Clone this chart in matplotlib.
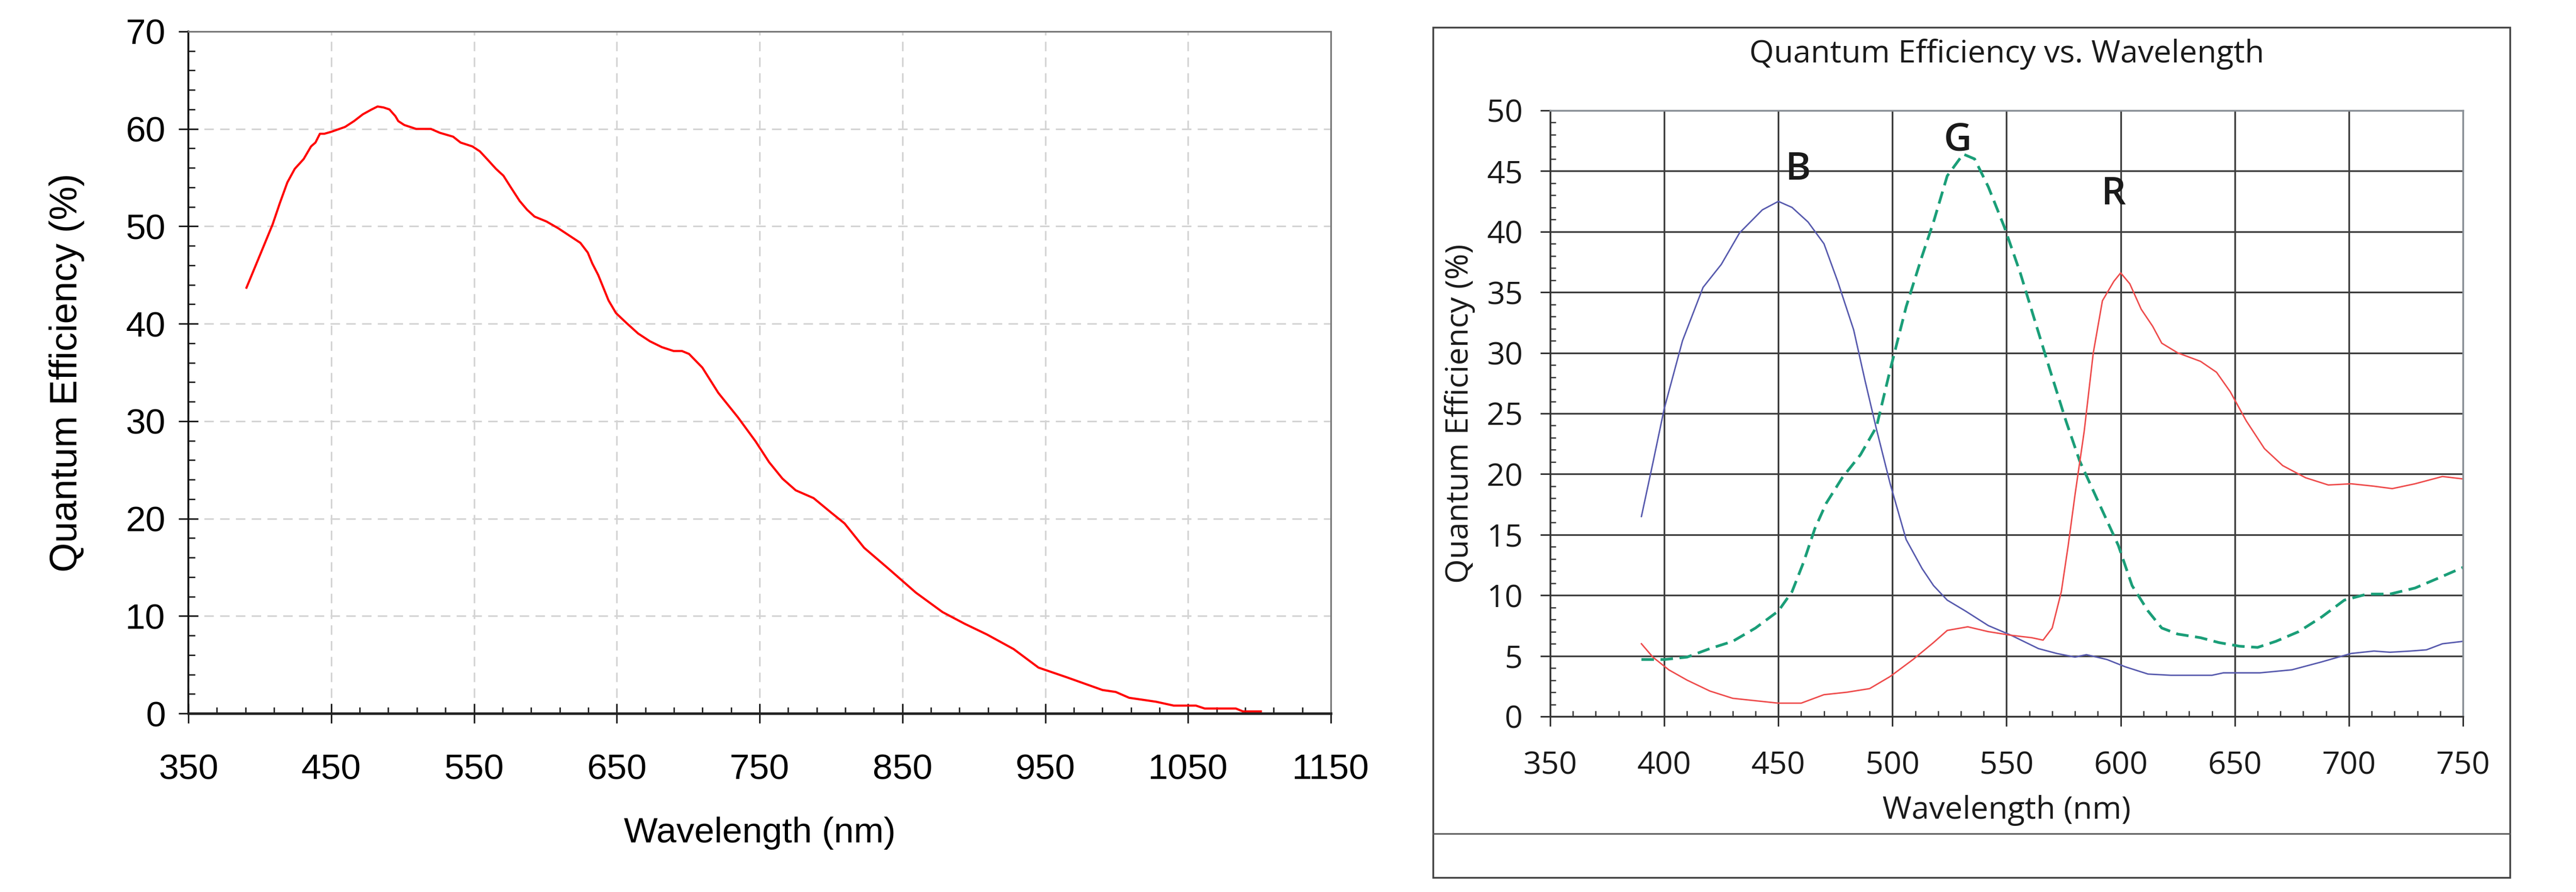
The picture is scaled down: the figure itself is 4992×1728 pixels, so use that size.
import numpy as np
import matplotlib
matplotlib.use('Agg')
import matplotlib.pyplot as plt
from matplotlib import font_manager
from matplotlib.ticker import MultipleLocator
from matplotlib.patches import Rectangle
from matplotlib.lines import Line2D

# left chart: mono sensor
mono_wl = [390.7, 401.7, 409, 414.1, 419.3, 424.5, 430.7, 435.9, 439, 442.1, 445.2, 450,
           459.7, 466, 472.2, 478.4, 482.5, 486.7, 490.8, 495, 497, 501.2, 509.5, 519.8,
           526.1, 535.4, 540.6, 548.9, 554.1, 559.2, 565.4, 570.6, 575.8, 582, 587.2,
           592.4, 600.7, 609, 615.2, 624.5, 629.7, 632.8, 637, 644.2, 649.4, 656.6, 664.9,
           673.2, 681.5, 689.8, 695.6, 700.6, 709.9, 721.1, 734.8, 747.3, 756.6, 766,
           775.3, 787.8, 800.2, 809.5, 823.2, 840.7, 859.4, 878.1, 893.6, 909.2, 927.9,
           945.3, 965.2, 990.1, 999.4, 1008.8, 1027.5, 1040, 1055.5, 1061.7, 1083.5,
           1088.5, 1101]
mono_qe = [43.7, 47.6, 50.2, 52.4, 54.5, 55.9, 56.9, 58.2, 58.6, 59.5, 59.5, 59.7,
           60.2, 60.8, 61.5, 62.0, 62.3, 62.2, 62.0, 61.3, 60.8, 60.4, 60.0, 60.0,
           59.6, 59.2, 58.6, 58.2, 57.7, 56.9, 55.9, 55.2, 54.0, 52.6, 51.7,
           51.0, 50.5, 49.8, 49.2, 48.3, 47.3, 46.2, 45.0, 42.4, 41.1, 40.1, 39.0,
           38.2, 37.6, 37.2, 37.2, 36.9, 35.5, 32.9, 30.4, 27.9, 25.8, 24.1,
           22.9, 22.1, 20.6, 19.5, 17.0, 14.8, 12.4, 10.4, 9.2, 8.1, 6.6,
           4.7, 3.7, 2.4, 2.2, 1.6, 1.2, 0.8, 0.8, 0.5, 0.5,
           0.2, 0.2]
mono_xticks = [350, 450, 550, 650, 750, 850, 950, 1050, 1150]
mono_yticks = [0, 10, 20, 30, 40, 50, 60, 70]

# right chart: colour sensor
b_wl = [390, 395, 400, 408, 417, 425, 433, 443, 450, 456, 463, 470, 476, 483, 488, 493,
        499, 506, 513, 518, 524, 532, 542, 552, 564, 572, 580, 585, 594, 602, 612, 622,
        640, 645, 661, 675, 688, 701, 711, 718, 727, 734, 741, 750]
b_qe = [16.5, 20.9, 25.4, 31.0, 35.4, 37.3, 39.9, 41.8, 42.5, 42.0, 40.8, 39.0, 35.9,
        31.9, 27.7, 23.7, 19.2, 14.6, 12.2, 10.8, 9.6, 8.7, 7.5, 6.7, 5.6, 5.2, 4.9, 5.1,
        4.7, 4.1, 3.5, 3.4, 3.4, 3.6, 3.6, 3.85, 4.5, 5.2, 5.4, 5.3, 5.4, 5.5, 6.0, 6.2]

g_wl = [390, 400, 410, 420, 430, 440, 450, 456, 461, 466, 471, 478, 486, 493, 499, 506,
        513, 518, 524, 531, 536, 542, 549, 556, 562, 569, 576, 582, 590, 599, 605, 612,
        618, 625, 635, 643, 652, 660, 668, 678, 688, 698, 708, 718, 729, 739, 750]
g_qe = [4.7, 4.7, 4.9, 5.6, 6.2, 7.3, 8.7, 10.3, 12.7, 15.5, 17.6, 19.7, 21.6, 23.9, 28.6,
        33.8, 38.0, 40.8, 44.6, 46.4, 46.0, 43.7, 40.4, 36.6, 32.9, 28.6, 24.4, 21.1,
        17.8, 14.1, 10.8, 8.7, 7.3, 6.8, 6.5, 6.1, 5.8, 5.7, 6.2, 7.0, 8.2, 9.6, 10.1,
        10.1, 10.6, 11.4, 12.3]

r_wl = [390, 395, 402, 410, 420, 430, 440, 450, 460, 470, 480, 490, 499, 509, 518, 524,
        533, 542, 552, 561, 566, 570, 574, 577, 580, 584, 588, 592, 597, 600, 604, 609,
        614, 618, 625, 635, 642, 648, 655, 663, 671, 681, 691, 701, 711, 719, 729, 741, 750]
r_qe = [6.0, 4.9, 3.85, 3.0, 2.1, 1.5, 1.3, 1.1, 1.1, 1.8, 2.0, 2.3, 3.3, 4.7, 6.1, 7.1,
        7.4, 7.0, 6.7, 6.5, 6.3, 7.3, 10.3, 14.1, 18.3, 23.5, 30.0, 34.3, 35.9, 36.6, 35.7,
        33.6, 32.2, 30.8, 30.0, 29.3, 28.4, 26.8, 24.4, 22.1, 20.7, 19.7, 19.1, 19.2, 19.0,
        18.8, 19.2, 19.8, 19.6]

peak_labels = ['B', 'G', 'R']
peak_x = [458.8, 528.6, 596.9]
peak_y = [45.1, 47.5, 43.05]

names = {f.name for f in font_manager.fontManager.ttflist}
narrow = 'Liberation Sans Narrow' if 'Liberation Sans Narrow' in names else 'Liberation Sans'
nsize = 55 if narrow == 'Liberation Sans Narrow' else 50

fig = plt.figure(figsize=(49.92, 17.28), dpi=100)

# ---- left chart ----
ax1 = fig.add_axes([0.07312, 0.20023, 0.44351, 0.76447])
ax1.plot(mono_wl, mono_qe, color='#ff0000', lw=3)
ax1.set_xlim(350, 1150)
ax1.set_ylim(0, 70)
ax1.set_xticks(mono_xticks)
ax1.set_xticks(np.arange(370, 1150, 20), minor=True)
ax1.set_yticks(mono_yticks)
ax1.yaxis.set_minor_locator(MultipleLocator(2))
ax1.grid(True, which='major', color='#d4d4d4', lw=2.2, ls=(0, (6, 4)))
ax1.set_axisbelow(True)
for side in ['top', 'right']:
    ax1.spines[side].set_color('#777777')
    ax1.spines[side].set_linewidth(2.2)
ax1.spines['left'].set_color('#111111')
ax1.spines['left'].set_linewidth(2.6)
ax1.spines['bottom'].set_color('#222222')
ax1.spines['bottom'].set_linewidth(3.5)
ax1.tick_params(which='major', direction='inout', length=28, width=2.2, color='#222222',
                labelsize=nsize, labelfontfamily=narrow)
ax1.tick_params(which='minor', direction='in', length=9, width=2, color='#222222')
ax1.tick_params(axis='x', which='major', pad=42)
ax1.tick_params(axis='y', which='major', pad=18)
ax1.set_xlabel('Wavelength (nm)', fontfamily=narrow, fontsize=nsize, va='center')
ax1.xaxis.set_label_coords(0.5, -0.1756)
ax1.set_ylabel('Quantum Efficiency (%)', fontfamily='Liberation Sans', fontsize=53, va='center')
ax1.yaxis.set_label_coords(-0.1066, 0.5)

# ---- right chart frame ----
fig.patches.append(Rectangle((0.55629, 0.0162), 0.41807, 0.95313, transform=fig.transFigure,
                             fill=False, ec='#444444', lw=2.5))
fig.add_artist(Line2D([0.55629, 0.97436], [0.06539, 0.06539], transform=fig.transFigure,
                      color='#555555', lw=2))

# ---- right chart ----
ax2 = fig.add_axes([0.60176, 0.19676, 0.35437, 0.6794])
ax2.plot(b_wl, b_qe, color='#5659ad', lw=2)
ax2.plot(g_wl, g_qe, color='#1a9e78', lw=3.8, ls=(0, (4.6, 2.4)))
ax2.plot(r_wl, r_qe, color='#ee4b4b', lw=2)
ax2.set_xlim(350, 750)
ax2.set_ylim(0, 50)
ax2.xaxis.set_major_locator(MultipleLocator(50))
ax2.xaxis.set_minor_locator(MultipleLocator(10))
ax2.yaxis.set_major_locator(MultipleLocator(5))
ax2.yaxis.set_minor_locator(MultipleLocator(1))
ax2.grid(True, which='major', color='#3c3c3c', lw=2.4)
ax2.set_axisbelow(True)
for side in ['top', 'right']:
    ax2.spines[side].set_color('#8a9097')
    ax2.spines[side].set_linewidth(2.4)
for side in ['left', 'bottom']:
    ax2.spines[side].set_color('#333333')
    ax2.spines[side].set_linewidth(2.4)
ax2.tick_params(which='major', direction='out', length=14, width=2.2, color='#333333',
                labelsize=44, labelfontfamily='Open Sans', labelcolor='#1a1a1a')
ax2.tick_params(which='minor', direction='in', length=8, width=1.8, color='#333333')
ax2.tick_params(axis='x', which='major', pad=33)
ax2.tick_params(axis='y', which='major', pad=24)
ax2.set_title('Quantum Efficiency vs. Wavelength', fontfamily='Open Sans', fontsize=44,
              y=1.086, va='center', color='#1a1a1a')
ax2.set_xlabel('Wavelength (nm)', fontfamily='Open Sans', fontsize=44, va='center', color='#1a1a1a')
ax2.xaxis.set_label_coords(0.5, -0.155)
ax2.set_ylabel('Quantum Efficiency (%)', fontfamily='Open Sans', fontsize=44, va='center', color='#1a1a1a')
ax2.yaxis.set_label_coords(-0.0989, 0.5)
for lab, x, y in zip(peak_labels, peak_x, peak_y):
    ax2.text(x, y, lab, fontfamily='Open Sans', fontsize=54, fontweight='semibold',
             ha='center', va='center', color='#1a1a1a')

fig.savefig('out.png', dpi=100)
